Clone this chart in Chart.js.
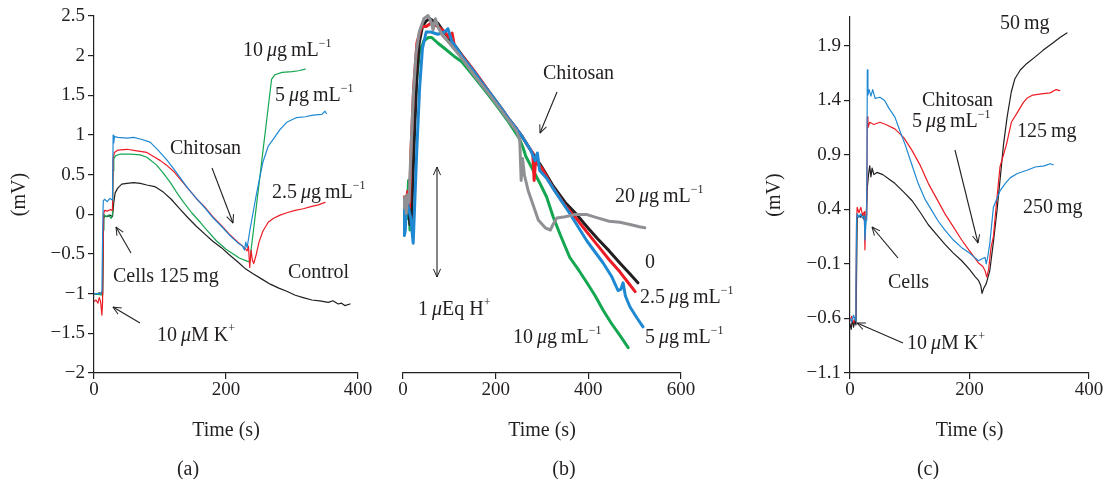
<!DOCTYPE html>
<html><head><meta charset="utf-8">
<script src="https://cdn.jsdelivr.net/npm/chart.js@4.4.1/dist/chart.umd.min.js"></script>
<style>
html,body{margin:0;padding:0;background:#fff;}
#wrap{position:relative;width:1106px;height:479px;overflow:hidden;background:#fff;}
canvas{position:absolute;top:0;}
.t{position:absolute;font-family:'Liberation Serif','Times New Roman',serif;font-size:20px;line-height:20px;color:#231f20;white-space:nowrap;z-index:5;}
.t sup{font-size:12px;vertical-align:baseline;position:relative;top:-9px;line-height:0;}
.t.c{transform:translateX(-50%);}
svg{position:absolute;left:0;top:0;z-index:4;}
</style></head>
<body><div id="wrap">
<canvas id="ca" width="380" height="479" style="left:0px"></canvas>
<canvas id="cb" width="360" height="479" style="left:385px"></canvas>
<canvas id="cc" width="361" height="479" style="left:745px"></canvas>
<svg width="1106" height="479">
<defs>
<marker id="ah" viewBox="0 0 10 10" refX="9.5" refY="5" markerWidth="9" markerHeight="9" markerUnits="userSpaceOnUse" orient="auto-start-reverse"><path d="M0.5,1 L9.5,5 L0.5,9" fill="none" stroke="#231f20" stroke-width="1.1"/></marker>
</defs>
<g stroke="#231f20" stroke-width="1.1" fill="none">
<line x1="212" y1="168" x2="233" y2="223" marker-end="url(#ah)"/>
<line x1="131" y1="253" x2="116" y2="227" marker-end="url(#ah)"/>
<line x1="140" y1="323" x2="113" y2="307" marker-end="url(#ah)"/>
<line x1="557" y1="92" x2="540" y2="133" marker-end="url(#ah)"/>
<line x1="437" y1="167" x2="437" y2="277" marker-start="url(#ah)" marker-end="url(#ah)"/>
<line x1="955" y1="150" x2="978" y2="243" marker-end="url(#ah)"/>
<line x1="898" y1="258" x2="872" y2="227" marker-end="url(#ah)"/>
<line x1="903" y1="343" x2="857" y2="323" marker-end="url(#ah)"/>
</g>
</svg>
</div>
<script>
// ---------- Panel (a): membrane potential, chitosan concentrations ----------
const aCtrlT = [0,4,8,11,13,14.5,16,20,24,28,30,32,36,42,50,60,70,80,92,105,117,130,142,155,168,180,193,205,218,230,241,255,267,280,292,305,317,330,342,355,362,370,375,380,388];
const aCtrlV = [-1.0,-1.01,-0.99,-1.0,-1.01,-0.05,-0.02,-0.03,-0.01,-0.03,0.15,0.27,0.33,0.38,0.39,0.4,0.39,0.37,0.35,0.28,0.19,0.07,-0.04,-0.15,-0.25,-0.34,-0.42,-0.51,-0.6,-0.69,-0.75,-0.82,-0.88,-0.93,-0.97,-1.02,-1.05,-1.08,-1.09,-1.11,-1.09,-1.13,-1.12,-1.15,-1.13];
const aRedT = [0,3,6,8,10,12,13,14.5,16,20,25,28,29,31,36,50,65,80,92,100,110,122,135,142,155,168,180,193,205,218,228,232,234,236,238,240,242,246,250,256,264,272,282,292,305,317,330,340,350];
const aRedV = [-1.1,-1.08,-1.12,-1.05,-1.1,-1.27,-1.1,0.0,0.05,0.04,0.06,0.05,0.7,0.78,0.81,0.82,0.8,0.78,0.72,0.68,0.62,0.53,0.4,0.33,0.2,0.09,-0.03,-0.14,-0.25,-0.35,-0.42,-0.46,-0.4,-0.67,-0.45,-0.58,-0.62,-0.5,-0.35,-0.21,-0.1,-0.05,-0.01,0.02,0.05,0.07,0.1,0.12,0.15];
const aBlueT = [0,5,10,12,13,14,16,20,24,28,29,30,31,36,50,60,70,85,97,110,122,142,155,168,180,193,205,218,225,228,230,232,236,246,256,264,272,282,292,307,320,332,345,350,352];
const aBlueV = [-1.0,-1.0,-1.0,-0.97,-0.3,0.17,0.19,0.16,0.2,0.18,1.0,0.9,0.98,0.97,0.96,0.97,0.95,0.91,0.81,0.69,0.56,0.33,0.2,0.08,-0.04,-0.15,-0.26,-0.36,-0.4,-0.45,-0.35,-0.42,-0.21,0.25,0.66,0.86,0.95,1.07,1.16,1.22,1.23,1.25,1.26,1.3,1.27];
const aGreenT = [0,6,13,14,15,18,22,26,28,29,30,33,40,55,70,80,95,105,115,125,135,148,161,171,185,200,211,220,232,236,238,246,256,264,269,274,285,300,310,320];
const aGreenV = [-1.0,-1.01,-1.02,-0.2,0.0,-0.03,-0.01,-0.05,0.0,0.55,0.7,0.74,0.76,0.76,0.75,0.72,0.62,0.52,0.41,0.28,0.16,0.02,-0.1,-0.2,-0.33,-0.44,-0.5,-0.55,-0.59,-0.6,-0.45,0.1,0.8,1.35,1.7,1.76,1.79,1.8,1.81,1.83];

// ---------- Panel (b): H+ extrusion (µEq, arbitrary offset) ----------
const bZeroT = [0,3,6,9,12,15,18,20,25,30,35,42,50,58,66,75,85,100,115,127,140,155,170,185,199,215,230,245,257,275,300,324,350,375,397,420,445,468,490,507];
const bZeroV = [1.55,1.45,1.6,1.5,1.48,1.35,1.4,1.6,2.2,2.7,3.0,3.15,3.2,3.22,3.2,3.18,3.12,3.04,2.96,2.89,2.82,2.73,2.65,2.56,2.48,2.39,2.3,2.22,2.15,2.03,1.87,1.7,1.55,1.44,1.33,1.22,1.11,1.0,0.9,0.82];
const bTwoT = [0,5,10,14,17,23,30,40,50,60,75,90,100,106,112,127,140,155,170,185,199,215,230,245,257,275,280,283,286,300,324,350,375,397,420,445,468,490,501];
const bTwoV = [1.6,1.5,1.65,1.5,2.0,2.6,3.0,3.15,3.15,3.18,3.15,3.1,3.05,3.09,2.95,2.89,2.82,2.74,2.65,2.56,2.48,2.39,2.3,2.22,2.15,2.03,2.0,1.75,1.92,1.86,1.68,1.52,1.4,1.28,1.16,1.03,0.92,0.8,0.74];
const bFiveT = [0,3,5,8,12,17,22,24,30,36,42,50,60,75,90,97,105,127,140,155,170,185,199,215,230,245,257,275,285,290,295,310,330,360,397,432,450,464,470,475,480,490,505,518];
const bFiveV = [1.55,1.25,1.3,1.58,1.5,1.4,1.18,1.4,2.05,2.6,2.95,3.1,3.1,3.08,3.1,3.13,3.02,2.88,2.81,2.73,2.64,2.56,2.48,2.39,2.3,2.22,2.15,2.03,1.93,2.0,1.84,1.77,1.64,1.45,1.2,1.0,0.88,0.75,0.76,0.82,0.7,0.6,0.5,0.42];
const bTenT = [0,5,8,12,15,18,22,28,35,45,55,62,75,90,110,127,150,175,199,225,250,259,265,280,296,310,324,340,360,380,397,415,432,450,470,486];
const bTenV = [1.55,1.6,1.4,1.75,1.3,1.5,2.0,2.6,2.9,3.02,3.05,3.05,3.0,2.95,2.88,2.83,2.71,2.58,2.45,2.3,2.14,2.05,1.97,1.85,1.72,1.6,1.42,1.25,1.05,0.93,0.82,0.7,0.57,0.45,0.33,0.23];
const bTwentyT = [0,4,7,10,13,16,22,28,35,45,54,60,65,70,75,85,100,127,155,185,215,245,252,255,258,262,270,279,292,307,318,325,332,350,370,397,420,445,468,490,510,522];
const bTwentyV = [1.5,1.6,1.45,1.62,1.55,1.9,2.5,2.9,3.1,3.22,3.25,3.2,3.12,3.22,3.15,3.07,3.0,2.86,2.7,2.54,2.37,2.2,2.12,1.75,1.95,1.8,1.66,1.55,1.39,1.32,1.3,1.36,1.41,1.42,1.44,1.44,1.41,1.38,1.37,1.35,1.33,1.32];

// ---------- Panel (c): cell mass, chitosan 5 µg/mL ----------
const cBlackT = [0,2,4,6,8,10,11,12,15,18,21,24,27,29,31,33,35,37,40,45,55,65,75,90,104,118,131,145,159,173,187,200,210,215,219,221,224,228,234,240,246,252,257,263,270,276,285,296,310,323,340,352,363];
const cBlackV = [-0.65,-0.7,-0.6,-0.68,-0.62,-0.66,-0.2,0.32,0.34,0.33,0.36,0.3,0.33,0.6,0.72,0.8,0.7,0.78,0.72,0.74,0.72,0.68,0.64,0.56,0.48,0.37,0.26,0.17,0.08,0.0,-0.07,-0.15,-0.22,-0.25,-0.3,-0.37,-0.32,-0.28,-0.16,0.1,0.39,0.72,1.0,1.25,1.48,1.6,1.68,1.74,1.8,1.86,1.93,1.98,2.02];
const cRedT = [0,3,6,9,10,11,12,15,18,21,24,25,26,28,29,30,33,40,50,60,75,90,104,118,131,145,159,173,187,200,215,222,226,229,232,236,240,245,251,262,270,279,290,296,306,320,335,345,351];
const cRedV = [-0.62,-0.58,-0.64,-0.6,-0.4,0.3,0.42,0.37,0.42,0.35,0.38,0.03,0.3,0.35,1.25,1.15,1.2,1.18,1.2,1.18,1.14,1.06,0.94,0.8,0.64,0.5,0.36,0.24,0.12,0.02,-0.09,-0.12,-0.16,-0.22,-0.15,0.05,0.15,0.45,0.79,1.0,1.2,1.28,1.38,1.42,1.45,1.46,1.47,1.5,1.49];
const cBlueT = [0,3,6,9,10,11,12,15,18,21,24,25,27,28,29,30,32,35,38,42,50,58,65,75,85,92,103,114,125,137,148,159,173,187,200,215,222,226,228,231,234,240,251,260,268,280,296,310,325,335,340];
const cBlueV = [-0.6,-0.63,-0.57,-0.62,-0.3,0.3,0.36,0.33,0.36,0.32,0.34,0.12,0.3,0.35,1.68,1.45,1.5,1.44,1.5,1.42,1.43,1.4,1.33,1.25,1.1,1.0,0.82,0.64,0.5,0.39,0.29,0.21,0.12,0.05,0.0,-0.07,-0.05,-0.04,-0.1,-0.02,0.09,0.42,0.57,0.64,0.69,0.73,0.76,0.79,0.8,0.82,0.81];

// tick labels
const aXTicks = [0, 200, 400];
const bXTicks = [0, 200, 400, 600];
const cXTicks = [0, 200, 400];
const aYTicks = [-2, -1.5, -1, -0.5, 0, 0.5, 1, 1.5, 2, 2.5];
const cYTicks = [-1.1, -0.6, -0.1, 0.4, 0.9, 1.4, 1.9];

const INK = '#231f20', RED = '#ed1c24', BLUE = '#1f88d2', GREEN = '#14a650', GREY = '#8e9093';
const FONT = "'Liberation Serif','Times New Roman',serif";
Chart.defaults.font.family = FONT;
Chart.defaults.color = INK;

function pts(t, v) { return t.map((x, i) => ({x: x, y: v[i]})); }
function minus(s) { return s.replace('-', '\u2212'); }
function fmtA(v) { const r = Math.round(v * 10) / 10; return minus(Number.isInteger(r) ? String(r) : r.toFixed(1)); }
function fmtC(v) { return minus((Math.round(v * 10) / 10).toFixed(1)); }

function ds(t, v, color, w) {
  return {data: pts(t, v), borderColor: color, backgroundColor: color, borderWidth: w,
          pointRadius: 0, tension: 0, fill: false, borderCapStyle: 'round', borderJoinStyle: 'round'};
}
function axisGrid() { return {display: true, drawOnChartArea: false, drawTicks: true, tickLength: 6, color: INK, lineWidth: 1.2}; }
function xScale(max, ticksArr) {
  return {
    type: 'linear', min: 0, max: max,
    afterBuildTicks: s => { s.ticks = ticksArr.map(v => ({value: v})); },
    ticks: {font: {size: 19, lineHeight: 1}, color: INK, padding: 2, maxRotation: 0, callback: v => String(v)},
    grid: axisGrid(), border: {display: true, color: INK, width: 1.2},
    title: {display: true, text: 'Time (s)', color: INK, font: {size: 20, lineHeight: 1.2}, padding: {top: 0, bottom: 36}},
    afterFit: s => { s.height = 106; }
  };
}
function yScale(min, max, ticksArr, fmt, width, titlePad) {
  return {
    type: 'linear', min: min, max: max,
    afterBuildTicks: s => { s.ticks = ticksArr.map(v => ({value: v})); },
    ticks: {font: {size: 19, lineHeight: 1}, color: INK, padding: 3, callback: v => fmt(v)},
    grid: axisGrid(), border: {display: true, color: INK, width: 1.2},
    title: {display: true, text: '(mV)', color: INK, font: {size: 20, lineHeight: 1.2}, padding: {top: titlePad, bottom: 0}},
    afterFit: s => { s.width = width; }
  };
}
function baseOpts(padding, scales) {
  return {
    responsive: false, animation: false, devicePixelRatio: 1,
    layout: {padding: padding},
    plugins: {legend: {display: false}, tooltip: {enabled: false}},
    elements: {point: {radius: 0}, line: {tension: 0}},
    scales: scales
  };
}

new Chart(document.getElementById('ca'), {
  type: 'line',
  data: {datasets: [
    ds(aBlueT, aBlueV, BLUE, 1.2),
    ds(aRedT, aRedV, RED, 1.2),
    ds(aGreenT, aGreenV, GREEN, 1.2),
    ds(aCtrlT, aCtrlV, INK, 1.2)
  ]},
  options: baseOpts({left: 0, right: 22, top: 16, bottom: 0},
    {x: xScale(400, aXTicks), y: yScale(-2, 2.5, aYTicks, fmtA, 94, 8)})
});

new Chart(document.getElementById('cb'), {
  type: 'line',
  data: {datasets: [
    ds(bTwentyT, bTwentyV, GREY, 3),
    ds(bFiveT, bFiveV, BLUE, 3),
    ds(bTwoT, bTwoV, RED, 3),
    ds(bZeroT, bZeroV, INK, 3),
    ds(bTenT, bTenV, GREEN, 3)
  ]},
  options: baseOpts({left: 18, right: 64, top: 10, bottom: 0},
    {x: xScale(600, bXTicks), y: {type: 'linear', display: false, min: 0, max: 3.3}})
});

new Chart(document.getElementById('cc'), {
  type: 'line',
  data: {datasets: [
    ds(cBlueT, cBlueV, BLUE, 1.2),
    ds(cRedT, cRedV, RED, 1.2),
    ds(cBlackT, cBlackV, INK, 1.2)
  ]},
  options: baseOpts({left: 0, right: 17, top: 17, bottom: 0},
    {x: xScale(400, cXTicks), y: yScale(-1.1, 2.166, cYTicks, fmtC, 105, 18)})
});

// ---------- annotations (real text) ----------
const MU = '<i>\u03bc</i>';
const UGML = '\u2009' + MU + 'g\u2009mL<sup>\u22121</sup>';
const notes = [
  {x: 243, y: 49, h: '10' + UGML},
  {x: 275, y: 94, h: '5' + UGML},
  {x: 170, y: 147, h: 'Chitosan'},
  {x: 272, y: 191, h: '2.5' + UGML},
  {x: 113, y: 275, h: 'Cells 125\u2009mg'},
  {x: 157, y: 334, h: '10\u2009' + MU + 'M K<sup>+</sup>'},
  {x: 288, y: 271, h: 'Control'},
  {x: 188, y: 468, h: '(a)', c: true},
  {x: 543, y: 72, h: 'Chitosan'},
  {x: 615, y: 195, h: '20' + UGML},
  {x: 645, y: 261, h: '0'},
  {x: 640, y: 296, h: '2.5' + UGML},
  {x: 645, y: 336, h: '5' + UGML},
  {x: 513, y: 336, h: '10' + UGML},
  {x: 418, y: 308, h: '1\u2009' + MU + 'Eq H<sup>+</sup>'},
  {x: 564, y: 468, h: '(b)', c: true},
  {x: 1000, y: 22, h: '50\u2009mg'},
  {x: 922, y: 99, h: 'Chitosan'},
  {x: 912, y: 120, h: '5' + UGML},
  {x: 1017, y: 130, h: '125\u2009mg'},
  {x: 1023, y: 206, h: '250\u2009mg'},
  {x: 888, y: 281, h: 'Cells'},
  {x: 907, y: 342, h: '10\u2009' + MU + 'M K<sup>+</sup>'},
  {x: 928, y: 468, h: '(c)', c: true}
];
const wrap = document.getElementById('wrap');
notes.forEach(n => {
  const d = document.createElement('div');
  d.className = 't' + (n.c ? ' c' : '');
  d.style.left = n.x + 'px';
  d.style.top = (n.y - 10) + 'px';
  d.innerHTML = n.h;
  wrap.appendChild(d);
});
</script>
</body></html>
